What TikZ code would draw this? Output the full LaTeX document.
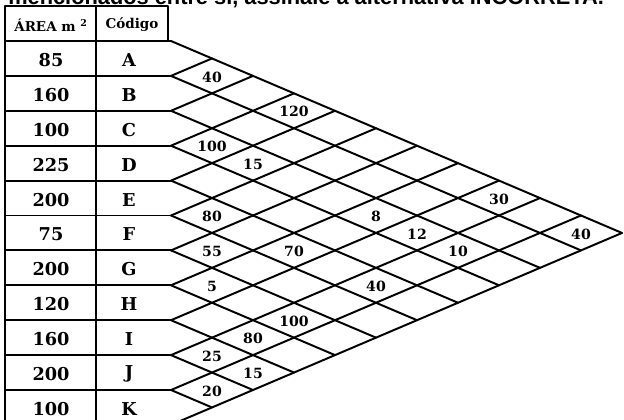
\documentclass[tikz,border=0pt]{standalone}
\usepackage{fontspec}
\setmainfont{DejaVu Serif}
\setsansfont{Liberation Sans}
\usepackage{tikz}
\usetikzlibrary{positioning, calc}

\begin{document}
\begin{tikzpicture}[x=0.025cm, y=-0.025cm,
      rule/.style={line width=1.4pt, line cap=round, line join=round},
      head/.style={font=\bfseries\fontsize{9.6}{11}\selectfont, inner sep=0pt},
      cell/.style={font=\bfseries\fontsize{12.6}{14}\selectfont, inner sep=0pt},
      dist/.style={font=\bfseries\fontsize{10}{12}\selectfont, inner sep=0pt},
      intro/.style={font=\sffamily\bfseries\fontsize{15.5}{17}\selectfont, inner sep=0pt, anchor=base west}
    ]
    \def\xo{171}
    \def\rowh{34.9}
    \useasboundingbox (0,0) rectangle (624,420);
    \clip (0,0) rectangle (624,420);

    % Question text (cut off at the top)
    \node[intro] (intro) at (8,4.5) {mencionados entre si, assinale a alternativa INCORRETA.};

    % Table frame
    \draw[rule] (5,440) -- (5,6) -- (168,6) -- (168,41);
    \draw[rule] (96,6) -- (96,440);
    \foreach \k in {0,...,11}
      \draw[rule] (5,41+\k*\rowh) -- (\xo,41+\k*\rowh);

    % Header
    \node[head] (harea) at (51,25) {ÁREA m \textsuperscript{2}};
    \node[head] (hcode) at (132,25) {Código};

    % Rows
    \foreach \v/\c [count=\i from 0] in {85/A, 160/B, 100/C, 225/D, 200/E, 75/F, 200/G, 120/H, 160/I, 200/J, 100/K} {
      \node[cell] (area\c) at (51,42.5+\i*\rowh+0.5*\rowh) {\v};
      \node[cell] (code\c) at (129,42.5+\i*\rowh+0.5*\rowh) {\c};
    }

    % Diagonal grid
    \foreach \a in {0,...,10}
      \draw[rule] (\xo,41+\a*\rowh) -- ++({(11-\a)*41},{(11-\a)*0.5*\rowh});
    \foreach \b in {1,...,11}
      \draw[rule] (\xo,41+\b*\rowh) -- ++({\b*41},{-\b*0.5*\rowh});

    % Distances
    \foreach \a/\b/\d in {0/1/40, 0/3/120, 2/3/100, 2/4/15, 4/5/80, 2/7/8, 5/6/55, 4/7/70,
                          6/7/5, 4/9/40, 6/9/100, 7/9/80, 8/9/25, 8/10/15, 9/10/20,
                          0/8/30, 2/8/12, 2/9/10, 0/10/40}
      \node[dist] (d\a-\b) at ({\xo+(\b-\a)*41},{41+(\a+\b+1)*0.5*\rowh+1}) {\d};
  \end{tikzpicture}
\end{document}
